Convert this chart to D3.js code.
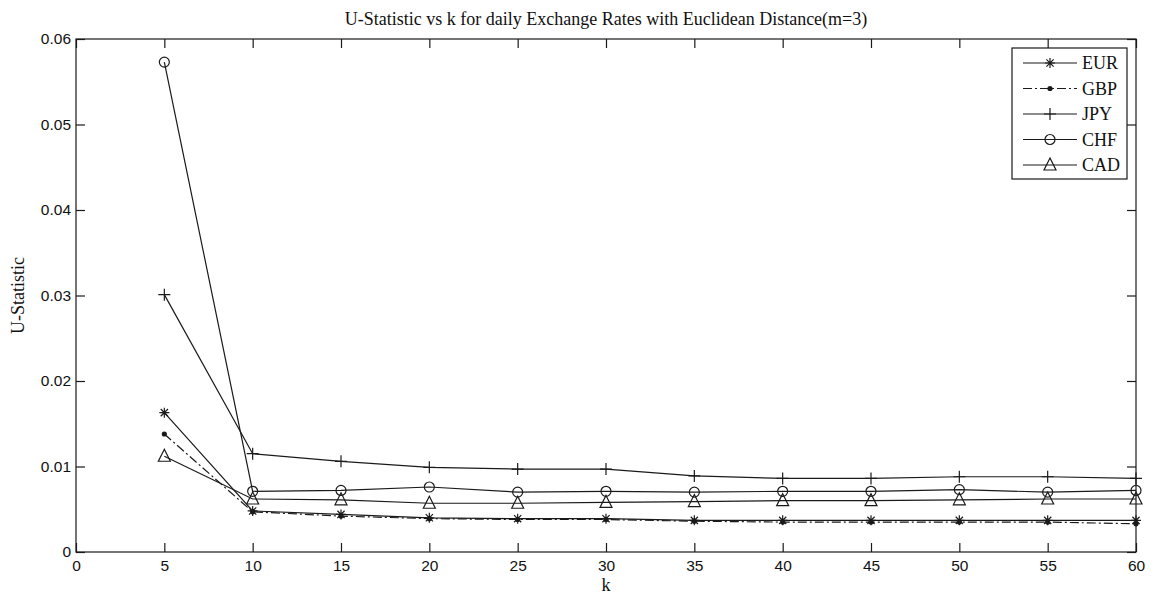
<!DOCTYPE html>
<html>
<head>
<meta charset="utf-8">
<script src="https://cdn.jsdelivr.net/npm/d3@7"></script>
<style>
  body { margin: 0; background: #fff; }
  svg { display: block; }
  .tick text { font-family: "Liberation Sans", Arial, sans-serif; font-size: 15.5px; fill: #111; }
</style>
</head>
<body>
<svg id="chart" width="1155" height="596"></svg>
<script>
const ks     = [5, 10, 15, 20, 25, 30, 35, 40, 45, 50, 55, 60]
const eur    = [0.0163, 0.0048, 0.0044, 0.0040, 0.0039, 0.0039, 0.0037, 0.0037, 0.0037, 0.0037, 0.0037, 0.0037]
const gbp    = [0.0138, 0.0047, 0.0042, 0.0039, 0.0038, 0.0038, 0.0036, 0.0035, 0.0035, 0.0035, 0.0035, 0.0033]
const jpy    = [0.0301, 0.0115, 0.0106, 0.0099, 0.0097, 0.0097, 0.0089, 0.0086, 0.0086, 0.0088, 0.0088, 0.0086]
const chf    = [0.0573, 0.0071, 0.0072, 0.0076, 0.0070, 0.0071, 0.0070, 0.0071, 0.0071, 0.0073, 0.0070, 0.0072]
const cad    = [0.0112, 0.0062, 0.0061, 0.0057, 0.0057, 0.0058, 0.0059, 0.0060, 0.0060, 0.0061, 0.0062, 0.0062]
const xTicks = [0, 5, 10, 15, 20, 25, 30, 35, 40, 45, 50, 55, 60]
const yTicks = [0, 0.01, 0.02, 0.03, 0.04, 0.05, 0.06]

const series = [
    { name: 'EUR', values: eur, marker: 'star',     dash: null },
    { name: 'GBP', values: gbp, marker: 'dot',      dash: '9,3,2,3' },
    { name: 'JPY', values: jpy, marker: 'plus',     dash: null },
    { name: 'CHF', values: chf, marker: 'circle',   dash: null },
    { name: 'CAD', values: cad, marker: 'triangle', dash: null }
]

const ink   = '#1a1a1a'
const serif = '"Liberation Serif", "Times New Roman", serif'
const margin = { left: 76, top: 39, right: 19, bottom: 44 }
const W = 1155, H = 596
const svg = d3.select('#chart')

const x = d3.scaleLinear().domain([0, 60]).range([margin.left, W - margin.right])
const y = d3.scaleLinear().domain([0, 0.06]).range([H - margin.bottom, margin.top])

const fmt = d => d === 0 ? '0' : d3.format('.2f')(d)

// box
svg.append('rect')
    .attr('x', x(0)).attr('y', y(0.06))
    .attr('width', x(60) - x(0)).attr('height', y(0) - y(0.06))
    .attr('fill', 'none').attr('stroke', ink).attr('stroke-width', 1.2)

const tl = 9
const styleAxis = g => {
    g.select('.domain').remove()
    g.selectAll('.tick line').attr('stroke', ink).attr('stroke-width', 1.2)
}

svg.append('g')
    .attr('transform', `translate(0,${y(0)})`)
    .call(d3.axisBottom(x).tickValues(xTicks).tickSizeInner(-tl).tickSizeOuter(0).tickPadding(6))
    .call(styleAxis)
    .selectAll('.tick text').attr('dy', '0.85em')

svg.append('g')
    .attr('transform', `translate(0,${y(0.06)})`)
    .call(d3.axisTop(x).tickValues(xTicks).tickSizeInner(-tl).tickSizeOuter(0).tickFormat(''))
    .call(styleAxis)

svg.append('g')
    .attr('transform', `translate(${x(0)},0)`)
    .call(d3.axisLeft(y).tickValues(yTicks).tickSizeInner(-tl).tickSizeOuter(0).tickPadding(5).tickFormat(fmt))
    .call(styleAxis)

svg.append('g')
    .attr('transform', `translate(${x(60)},0)`)
    .call(d3.axisRight(y).tickValues(yTicks).tickSizeInner(-tl).tickSizeOuter(0).tickFormat(''))
    .call(styleAxis)

// markers
const drawMarker = (g, type) => {
    const s = { fill: 'none', stroke: ink, 'stroke-width': 1.2 }
    const apply = el => { Object.entries(s).forEach(([k, v]) => el.attr(k, v)); return el }
    if (type === 'star') {
        apply(g.append('path').attr('d', 'M-5,0H5M0,-5V5M-3.6,-3.6L3.6,3.6M-3.6,3.6L3.6,-3.6'))
    } else if (type === 'dot') {
        g.append('circle').attr('r', 2.6).attr('fill', ink)
    } else if (type === 'plus') {
        apply(g.append('path').attr('d', 'M-6,0H6M0,-6V6'))
    } else if (type === 'circle') {
        apply(g.append('circle').attr('r', 5).attr('fill', '#fff'))
    } else if (type === 'triangle') {
        apply(g.append('path').attr('d', 'M0,-7L6,5H-6Z').attr('fill', 'none'))
    }
}

const line = d3.line().x((d, i) => x(ks[i])).y(d => y(d))

series.forEach(s => {
    svg.append('path')
        .datum(s.values)
        .attr('d', line)
        .attr('fill', 'none')
        .attr('stroke', ink)
        .attr('stroke-width', 1.2)
        .attr('stroke-dasharray', s.dash)
})

series.forEach(s => {
    svg.selectAll(null)
        .data(s.values)
        .enter().append('g')
        .attr('transform', (d, i) => `translate(${x(ks[i])},${y(d)})`)
        .each(function () { drawMarker(d3.select(this), s.marker) })
})

// title and labels
svg.append('text')
    .attr('x', (x(0) + x(60)) / 2).attr('y', 25)
    .attr('text-anchor', 'middle')
    .style('font-family', serif)
    .style('font-size', '18px').attr('fill', '#111')
    .text('U-Statistic vs k for daily Exchange Rates with Euclidean Distance(m=3)')

svg.append('text')
    .attr('x', (x(0) + x(60)) / 2).attr('y', 591)
    .attr('text-anchor', 'middle')
    .style('font-family', serif)
    .style('font-size', '18px').attr('fill', '#111')
    .text('k')

svg.append('text')
    .attr('transform', `translate(24,${(y(0) + y(0.06)) / 2}) rotate(-90)`)
    .attr('text-anchor', 'middle')
    .style('font-family', serif)
    .style('font-size', '18px').attr('fill', '#111')
    .text('U-Statistic')

// legend
const lg = svg.append('g').attr('transform', 'translate(1012,48)')
lg.append('rect')
    .attr('width', 115).attr('height', 131)
    .attr('fill', '#fff').attr('stroke', ink).attr('stroke-width', 1.2)

const rows = lg.selectAll('.row')
    .data(series)
    .enter().append('g')
    .attr('class', 'row')
    .attr('transform', (d, i) => `translate(0,${15 + i * 25.5})`)

rows.append('line')
    .attr('x1', 11).attr('x2', 65)
    .attr('stroke', ink).attr('stroke-width', 1.2)
    .attr('stroke-dasharray', d => d.dash)

rows.append('g')
    .attr('transform', 'translate(38,0)')
    .each(function (d) { drawMarker(d3.select(this), d.marker) })

rows.append('text')
    .attr('x', 70).attr('dy', '0.35em')
    .style('font-family', serif)
    .style('font-size', '18px').attr('fill', '#111')
    .text(d => d.name)
</script>
</body>
</html>
